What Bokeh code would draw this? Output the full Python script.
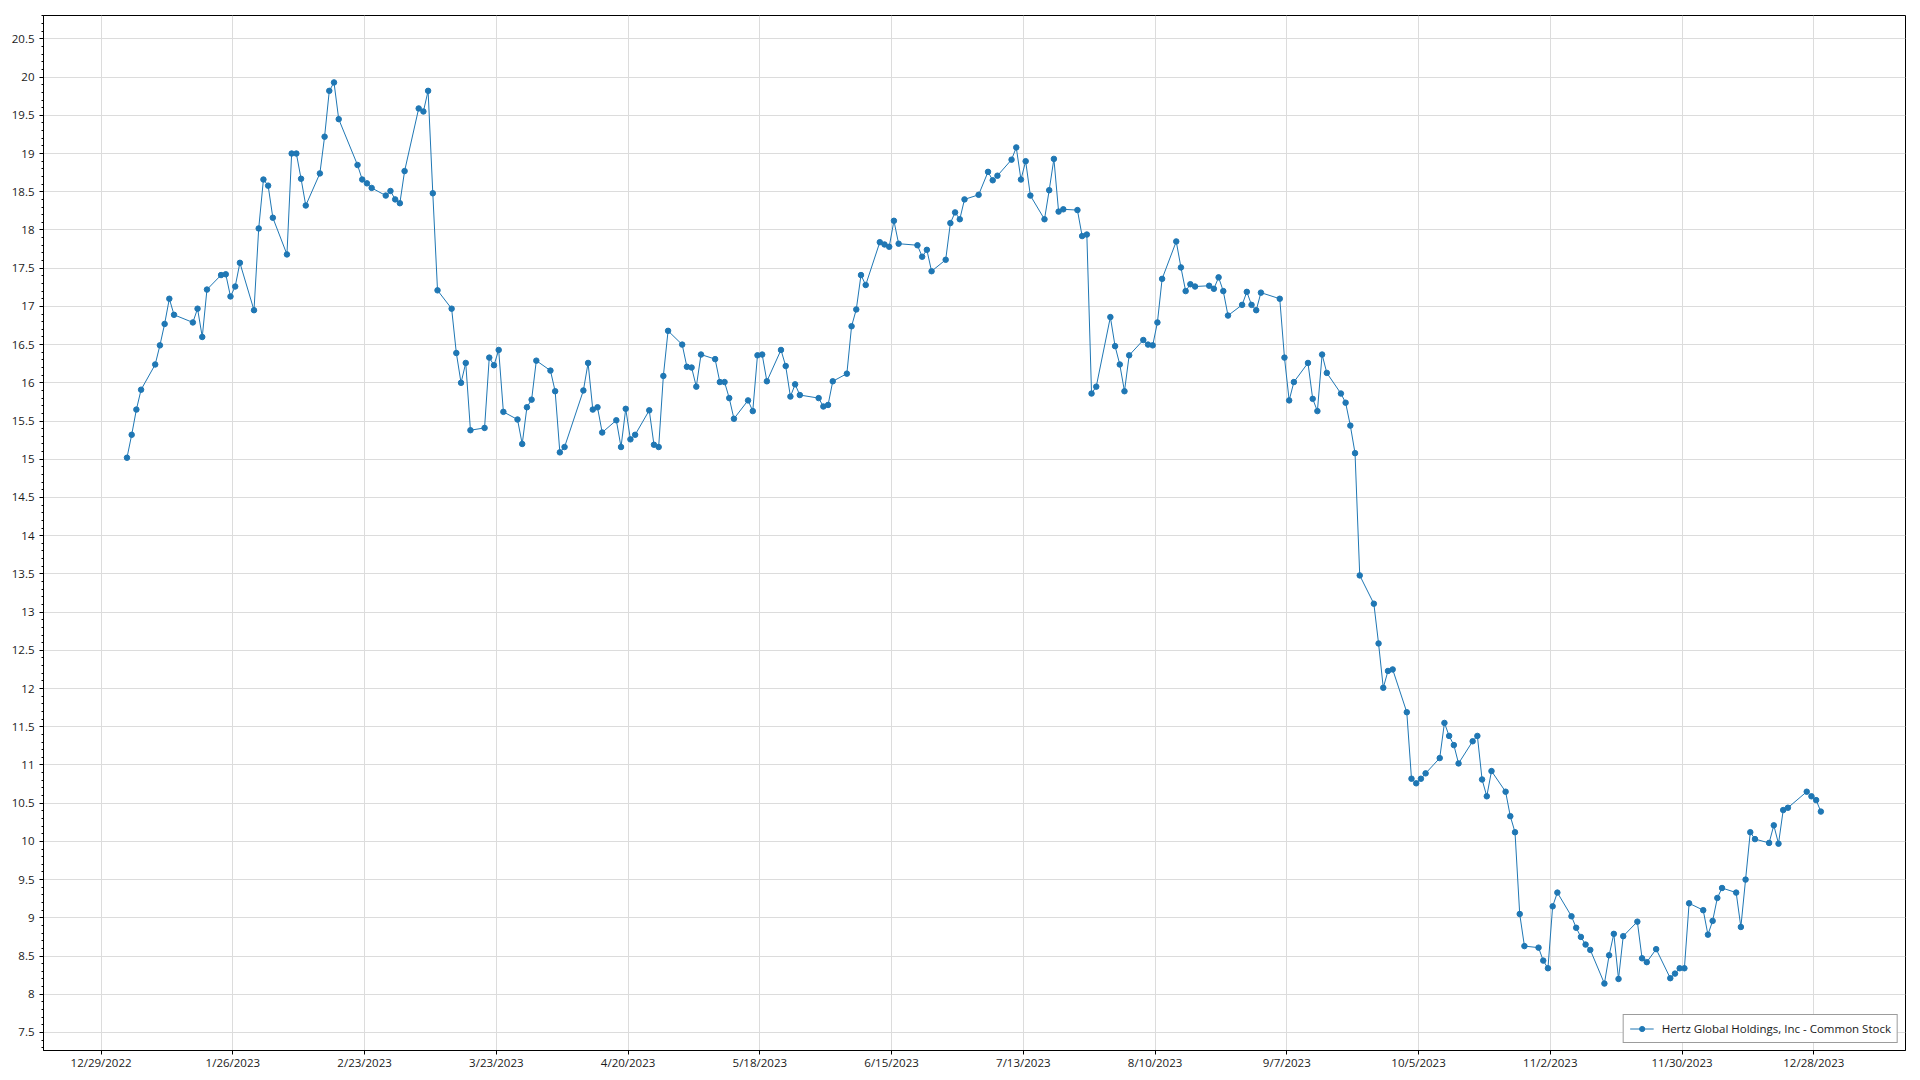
from datetime import datetime, timedelta
from bokeh.plotting import figure
from bokeh.models import (FixedTicker, CustomJSTickFormatter, Range1d, Legend,
                          LegendItem, ColumnDataSource)
from bokeh.embed import file_html
from bokeh.resources import INLINE

series_name = "Hertz Global Holdings, Inc - Common Stock"

# trading days (day of month) and closing prices, per month of 2023
jan_days = [3, 4, 5, 6, 9, 10, 11, 12, 13, 17, 18, 19, 20, 23, 24, 25, 26, 27, 30, 31]
jan_close = [15.02, 15.32, 15.65, 15.91, 16.24, 16.49, 16.77, 17.10, 16.89, 16.79,
             16.97, 16.60, 17.22, 17.41, 17.42, 17.13, 17.26, 17.57, 16.95, 18.02]
feb_days = [1, 2, 3, 6, 7, 8, 9, 10, 13, 14, 15, 16, 17, 21, 22, 23, 24, 27, 28]
feb_close = [18.66, 18.58, 18.16, 17.68, 19.00, 19.00, 18.67, 18.32, 18.74, 19.22,
             19.82, 19.93, 19.45, 18.85, 18.66, 18.61, 18.55, 18.45, 18.51]
mar_days = [1, 2, 3, 6, 7, 8, 9, 10, 13, 14, 15, 16, 17, 20, 21, 22, 23, 24, 27, 28, 29, 30, 31]
mar_close = [18.40, 18.35, 18.77, 19.59, 19.55, 19.82, 18.48, 17.21, 16.97, 16.39,
             16.00, 16.26, 15.38, 15.41, 16.33, 16.23, 16.43, 15.62, 15.52, 15.20,
             15.68, 15.78, 16.29]
apr_days = [3, 4, 5, 6, 10, 11, 12, 13, 14, 17, 18, 19, 20, 21, 24, 25, 26, 27, 28]
apr_close = [16.16, 15.89, 15.09, 15.16, 15.90, 16.26, 15.65, 15.68, 15.35, 15.51,
             15.16, 15.66, 15.26, 15.32, 15.64, 15.19, 15.16, 16.09, 16.68]
may_days = [1, 2, 3, 4, 5, 8, 9, 10, 11, 12, 15, 16, 17, 18, 19, 22, 23, 24, 25, 26, 30, 31]
may_close = [16.50, 16.21, 16.20, 15.95, 16.37, 16.31, 16.01, 16.01, 15.80, 15.53,
             15.77, 15.63, 16.36, 16.37, 16.02, 16.43, 16.22, 15.82, 15.98, 15.84,
             15.80, 15.69]
jun_days = [1, 2, 5, 6, 7, 8, 9, 12, 13, 14, 15, 16, 20, 21, 22, 23, 26, 27, 28, 29, 30]
jun_close = [15.71, 16.02, 16.12, 16.74, 16.96, 17.41, 17.28, 17.84, 17.81, 17.78,
             18.12, 17.82, 17.80, 17.65, 17.74, 17.46, 17.61, 18.09, 18.23, 18.14, 18.40]
jul_days = [3, 5, 6, 7, 10, 11, 12, 13, 14, 17, 18, 19, 20, 21, 24, 25, 26, 27, 28, 31]
jul_close = [18.46, 18.76, 18.65, 18.71, 18.92, 19.08, 18.66, 18.90, 18.45, 18.14,
             18.52, 18.93, 18.24, 18.27, 18.26, 17.92, 17.94, 15.86, 15.95, 16.86]
aug_days = [1, 2, 3, 4, 7, 8, 9, 10, 11, 14, 15, 16, 17, 18, 21, 22, 23, 24, 25, 28, 29, 30, 31]
aug_close = [16.48, 16.24, 15.89, 16.36, 16.56, 16.50, 16.49, 16.79, 17.36, 17.85,
             17.51, 17.20, 17.29, 17.26, 17.27, 17.23, 17.38, 17.20, 16.88, 17.02,
             17.19, 17.02, 16.95]
sep_days = [1, 5, 6, 7, 8, 11, 12, 13, 14, 15, 18, 19, 20, 21, 22, 25, 26, 27, 28, 29]
sep_close = [17.18, 17.10, 16.33, 15.77, 16.01, 16.26, 15.79, 15.63, 16.37, 16.13,
             15.86, 15.74, 15.44, 15.08, 13.48, 13.11, 12.59, 12.01, 12.23, 12.25]
oct_days = [2, 3, 4, 5, 6, 9, 10, 11, 12, 13, 16, 17, 18, 19, 20, 23, 24, 25, 26, 27, 30, 31]
oct_close = [11.69, 10.82, 10.76, 10.82, 10.89, 11.09, 11.55, 11.38, 11.26, 11.02,
             11.31, 11.38, 10.81, 10.59, 10.92, 10.65, 10.33, 10.12, 9.05, 8.63,
             8.61, 8.44]
nov_days = [1, 2, 3, 6, 7, 8, 9, 10, 13, 14, 15, 16, 17, 20, 21, 22, 24, 27, 28, 29, 30]
nov_close = [8.34, 9.15, 9.33, 9.02, 8.87, 8.75, 8.65, 8.58, 8.14, 8.51, 8.79, 8.20,
             8.76, 8.95, 8.47, 8.42, 8.59, 8.21, 8.27, 8.34, 8.34]
dec_days = [1, 4, 5, 6, 7, 8, 11, 12, 13, 14, 15, 18, 19, 20, 21, 22, 26, 27, 28, 29]
dec_close = [9.19, 9.10, 8.78, 8.96, 9.26, 9.39, 9.33, 8.88, 9.50, 10.12, 10.03,
             9.98, 10.21, 9.97, 10.41, 10.44, 10.65, 10.59, 10.54, 10.39]

x_tick_labels = ["12/29/2022", "1/26/2023", "2/23/2023", "3/23/2023", "4/20/2023",
                 "5/18/2023", "6/15/2023", "7/13/2023", "8/10/2023", "9/7/2023",
                 "10/5/2023", "11/2/2023", "11/30/2023", "12/28/2023"]
y_tick_values = [7.5, 8, 8.5, 9, 9.5, 10, 10.5, 11, 11.5, 12, 12.5, 13, 13.5, 14,
                 14.5, 15, 15.5, 16, 16.5, 17, 17.5, 18, 18.5, 19, 19.5, 20, 20.5]

months = [(1, jan_days, jan_close), (2, feb_days, feb_close), (3, mar_days, mar_close),
          (4, apr_days, apr_close), (5, may_days, may_close), (6, jun_days, jun_close),
          (7, jul_days, jul_close), (8, aug_days, aug_close), (9, sep_days, sep_close),
          (10, oct_days, oct_close), (11, nov_days, nov_close), (12, dec_days, dec_close)]

xs, ys = [], []
for m, days, closes in months:
    for d, c in zip(days, closes):
        xs.append(datetime(2023, m, d, 12))
        ys.append(c)

src = ColumnDataSource(dict(x=xs, y=ys))

tick_dates = [datetime.strptime(s, "%m/%d/%Y") for s in x_tick_labels]
tick_ms = [(t - datetime(1970, 1, 1)).total_seconds() * 1000 for t in tick_dates]

x0 = tick_dates[0] - timedelta(days=12.24)
x1 = tick_dates[0] + timedelta(days=383.49)

p = figure(width=1912, height=1076, x_axis_type="datetime",
           output_backend="svg", toolbar_location=None,
           x_range=Range1d(x0, x1), y_range=Range1d(7.264, 20.806),
           min_border_left=43, min_border_right=7, min_border_top=15,
           min_border_bottom=26)

p.background_fill_color = "white"
p.border_fill_color = "white"
p.outline_line_color = "black"
p.outline_line_width = 1

blue = "#1f77b4"
ln = p.line("x", "y", source=src, line_color=blue, line_width=1)
sc = p.scatter("x", "y", source=src, size=5.5, fill_color=blue, line_color=blue)

font = "Open Sans"
xa = p.xaxis[0]
xa.ticker = FixedTicker(ticks=tick_ms, minor_ticks=[])
xa.formatter = CustomJSTickFormatter(code="""
const d = new Date(tick);
return (d.getUTCMonth()+1) + '/' + d.getUTCDate() + '/' + d.getUTCFullYear();
""")
ya = p.yaxis[0]
minor = [round(7.3 + 0.1 * i, 1) for i in range(136)]
ya.ticker = FixedTicker(ticks=y_tick_values, minor_ticks=minor)
ya.formatter = CustomJSTickFormatter(code="return String(Math.round(tick*10)/10);")

for ax in (xa, ya):
    ax.axis_line_color = "black"
    ax.axis_line_width = 1
    ax.major_tick_line_color = "black"
    ax.minor_tick_line_color = "black"
    ax.major_tick_out = 4
    ax.major_tick_in = 0
    ax.minor_tick_out = 2
    ax.minor_tick_in = 0
    ax.major_label_text_font = font
    ax.major_label_text_font_size = "11.5px"
    ax.major_label_text_color = "#1a1a1a"
xa.major_label_standoff = 0
ya.major_label_standoff = 5

p.xgrid.grid_line_color = "#dcdcdc"
p.ygrid.grid_line_color = "#dcdcdc"
p.xgrid.grid_line_width = 1
p.ygrid.grid_line_width = 1

legend = Legend(items=[LegendItem(label=series_name, renderers=[ln, sc])],
                location="bottom_right")
legend.margin = 7
legend.padding = 6
legend.spacing = 0
legend.glyph_width = 24
legend.glyph_height = 13
legend.label_height = 13
legend.label_standoff = 8
legend.label_text_font = font
legend.label_text_font_size = "11.5px"
legend.label_text_color = "#1a1a1a"
legend.border_line_color = "#3a3a3a"
legend.border_line_width = 1
legend.background_fill_color = "white"
legend.background_fill_alpha = 1
p.add_layout(legend)

open("out.html", "w").write(file_html(p, INLINE))
